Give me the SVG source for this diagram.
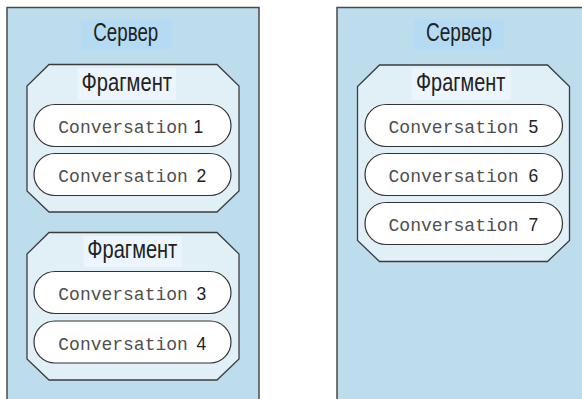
<svg xmlns="http://www.w3.org/2000/svg" width="582" height="399" viewBox="0 0 582 399">
  <style>
    .server { fill: #bddcec; stroke: #4a4a4a; stroke-width: 1.5; }
    .srv-label-bg { fill: #b4dbf3; }
    .frag { fill: #e1eff7; stroke: #3c3c3c; stroke-width: 1.3; }
    .frag-label-bg { fill: #ebf5fb; }
    .pill { fill: #ffffff; stroke: #333333; stroke-width: 1.2; }
    .label { font-family: "Liberation Sans Narrow", "Liberation Sans", "DejaVu Sans", sans-serif; font-size: 25.5px; fill: #222222; }
    .mono { font-family: "Liberation Mono", "DejaVu Sans Mono", monospace; font-size: 17.8px; fill: #505050; }
    .num { font-family: "Liberation Sans", "DejaVu Sans", sans-serif; font-size: 17.5px; fill: #222222; }
  </style>

  <rect width="582" height="399" fill="#ffffff"/>

  <!-- Server A -->
  <g id="server-a">
    <rect class="server" x="7" y="7.5" width="252" height="400"/>
    <rect class="srv-label-bg" x="81" y="19.5" width="91" height="30"/>
    <text class="label" x="93.3" y="41" textLength="65" lengthAdjust="spacingAndGlyphs">Сервер</text>
  </g>

  <!-- Server B -->
  <g id="server-b">
    <rect class="server" x="337" y="7.5" width="252" height="400"/>
    <rect class="srv-label-bg" x="414" y="19.5" width="90" height="30"/>
    <text class="label" x="426" y="41" textLength="66" lengthAdjust="spacingAndGlyphs">Сервер</text>
  </g>

  <!-- Shard 1 on server A -->
  <g id="shard-a1">
    <polygon class="frag" points="49,64.5 217,64.5 239,86 239,191 217,212 49,212 27,191 27,86"/>
    <rect class="frag-label-bg" x="77.5" y="68" width="98.5" height="32"/>
    <text class="label" x="81.5" y="91.3" textLength="90.5" lengthAdjust="spacingAndGlyphs">Фрагмент</text>
  </g>

  <!-- Shard 2 on server A -->
  <g id="shard-a2">
    <polygon class="frag" points="49,232.5 217,232.5 239,254 239,359 217,380 49,380 27,359 27,254"/>
    <rect class="frag-label-bg" x="83.3" y="236" width="98.4" height="31"/>
    <text class="label" x="87.3" y="257.5" textLength="90" lengthAdjust="spacingAndGlyphs">Фрагмент</text>
  </g>

  <!-- Shard on server B -->
  <g id="shard-b1">
    <polygon class="frag" points="379.5,65 547.5,65 569.5,86.5 569.5,240.5 547.5,261.5 379.5,261.5 357.5,240.5 357.5,86.5"/>
    <rect class="frag-label-bg" x="411.7" y="68.3" width="99" height="31.7"/>
    <text class="label" x="416" y="91.3" textLength="89.3" lengthAdjust="spacingAndGlyphs">Фрагмент</text>
  </g>

  <!-- Conversations -->
  <g id="conv-1">
    <rect class="pill" x="34" y="104.5" width="197" height="42" rx="21"/>
    <text class="mono" x="58.3" y="133.3" textLength="129.5" lengthAdjust="spacingAndGlyphs">Conversation</text>
    <text class="num" x="193.5" y="133.3">1</text>
  </g>
  <g id="conv-2">
    <rect class="pill" x="34" y="153.5" width="197" height="42" rx="21"/>
    <text class="mono" x="58.3" y="182.3" textLength="129.5" lengthAdjust="spacingAndGlyphs">Conversation</text>
    <text class="num" x="196.5" y="182.3">2</text>
  </g>
  <g id="conv-3">
    <rect class="pill" x="34" y="271.5" width="197" height="42" rx="21"/>
    <text class="mono" x="58.3" y="300.3" textLength="129.5" lengthAdjust="spacingAndGlyphs">Conversation</text>
    <text class="num" x="196.5" y="300.3">3</text>
  </g>
  <g id="conv-4">
    <rect class="pill" x="34" y="321" width="197" height="42" rx="21"/>
    <text class="mono" x="58.3" y="349.8" textLength="129.5" lengthAdjust="spacingAndGlyphs">Conversation</text>
    <text class="num" x="196.5" y="349.8">4</text>
  </g>
  <g id="conv-5">
    <rect class="pill" x="365" y="104.5" width="197.5" height="42" rx="21"/>
    <text class="mono" x="388.5" y="133.3" textLength="130" lengthAdjust="spacingAndGlyphs">Conversation</text>
    <text class="num" x="528.5" y="133.3">5</text>
  </g>
  <g id="conv-6">
    <rect class="pill" x="365" y="153.5" width="197.5" height="42" rx="21"/>
    <text class="mono" x="388.5" y="182.3" textLength="130" lengthAdjust="spacingAndGlyphs">Conversation</text>
    <text class="num" x="528.5" y="182.3">6</text>
  </g>
  <g id="conv-7">
    <rect class="pill" x="365" y="202.5" width="197.5" height="42" rx="21"/>
    <text class="mono" x="388.5" y="231.3" textLength="130" lengthAdjust="spacingAndGlyphs">Conversation</text>
    <text class="num" x="528.5" y="231.3">7</text>
  </g>

  <!-- no connectors in this figure -->
  <g id="connectors"/>
</svg>
